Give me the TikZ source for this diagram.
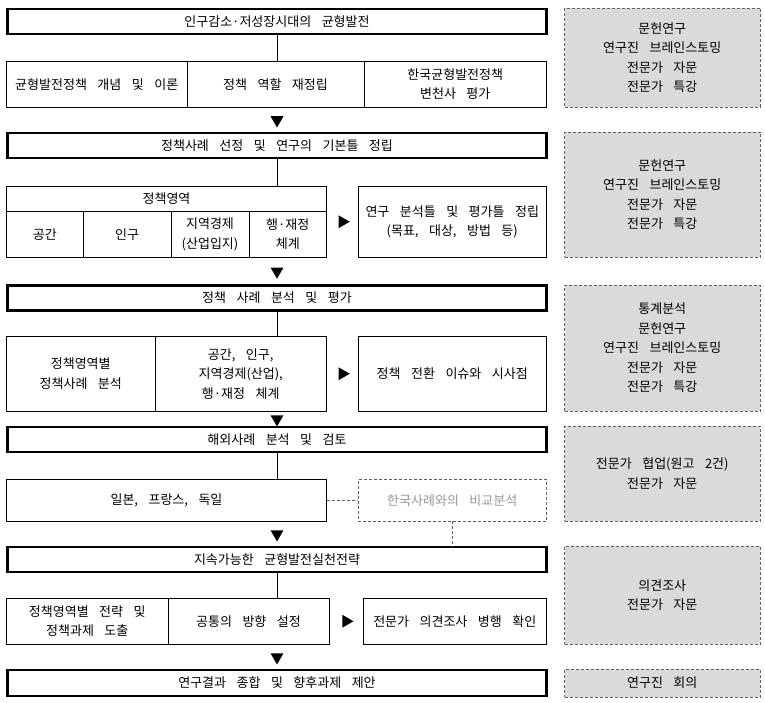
\documentclass[tikz,border=0pt]{standalone}
\usepackage{fontspec}
\setmainfont{Noto Sans CJK KR}[WordSpace=3.6]
\usepackage{tikz}
\usetikzlibrary{calc,shapes,positioning}

\definecolor{boxgray}{RGB}{218,218,218}
\definecolor{edgegray}{RGB}{95,95,95}
\definecolor{textgray}{RGB}{150,150,150}

\begin{document}
\begin{tikzpicture}[
    x = 1pt, y = -1pt,
    node distance = 0pt,
    font = \fontsize{13}{19.5}\selectfont
  ]

  \useasboundingbox (0,0) rectangle (765,703);

  \tikzstyle {every node} = [inner sep = 0, outer sep = 0, align = center]
  \tikzstyle {stage} = [draw, line width = 2.4pt, minimum width = 539pt, minimum height = 25pt]
  \tikzstyle {cell} = [draw, line width = 0.8pt, anchor = north west]
  \tikzstyle {note} = [cell, fill = boxgray, draw = edgegray, densely dashed, line width = 0.6pt, minimum width = 195.5pt]
  \tikzstyle {dnarrow} = [regular polygon, regular polygon sides = 3, shape border rotate = 180, fill = black, minimum size = 15pt]
  \tikzstyle {rtarrow} = [dnarrow, shape border rotate = -90]
  \tikzstyle {link} = [line width = 0.8pt]

  % stages
  \node [stage] (s1) at (277,21.5) {인구감소·저성장시대의 균형발전};
  \node [stage] (s2) at (277,145.5) {정책사례 선정 및 연구의 기본틀 정립};
  \node [stage] (s3) at (277,298) {정책 사례 분석 및 평가};
  \node [stage] (s4) at (277,439.5) {해외사례 분석 및 검토};
  \node [stage] (s5) at (277,559.5) {지속가능한 균형발전실천전략};
  \node [stage, minimum height = 26pt] (s6) at (277,683) {연구결과 종합 및 향후과제 제안};

  % row 1
  \node [cell, minimum width = 180.5pt, minimum height = 45.5pt] (r1a) at (6.5,61.5) {균형발전정책 개념 및 이론};
  \node [cell, minimum width = 177pt, minimum height = 45.5pt, right = of r1a] (r1b) {정책 역할 재정립};
  \node [cell, minimum width = 182.5pt, minimum height = 45.5pt, right = of r1b] (r1c) {한국균형발전정책\\변천사 평가};

  % row 2
  \node [cell, minimum width = 320pt, minimum height = 25pt] (hdr) at (6.5,186.5) {정책영역};
  \node [cell, minimum width = 76.5pt, minimum height = 45.5pt] (t1) at (hdr.south west) {공간};
  \node [cell, minimum width = 88pt, minimum height = 45.5pt, right = of t1] (t2) {인구};
  \node [cell, minimum width = 78pt, minimum height = 45.5pt, right = of t2] (t3) {지역경제\\(산업입지)};
  \node [cell, minimum width = 77.5pt, minimum height = 45.5pt, right = of t3] (t4) {행·재정\\체계};
  \node [cell, minimum width = 188.5pt, minimum height = 70.5pt] (frm) at (358,186.5) {연구 분석틀 및 평가틀 정립\\(목표, 대상, 방법 등)};

  % row 3
  \node [cell, minimum width = 148.5pt, minimum height = 74.5pt] (r3a) at (6.5,336.5) {정책영역별\\정책사례 분석};
  \node [cell, minimum width = 171.5pt, minimum height = 74.5pt, right = of r3a] (r3b) {공간, 인구,\\지역경제(산업),\\행·재정 체계};
  \node [cell, minimum width = 188.5pt, minimum height = 74.5pt] (iss) at (358,336.5) {정책 전환 이슈와 시사점};

  % row 4
  \node [cell, minimum width = 320pt, minimum height = 41.5pt] (r4) at (6.5,479.5) {일본, 프랑스, 독일};
  \node [cell, draw = edgegray, densely dashed, text = textgray, minimum width = 188.5pt, minimum height = 41.5pt] (kor) at (358,479.5) {한국사례와의 비교분석};

  % row 5
  \node [cell, minimum width = 161.5pt, minimum height = 45.5pt] (r5a) at (6.5,598.5) {정책영역별 전략 및\\정책과제 도출};
  \node [cell, minimum width = 161pt, minimum height = 45.5pt, right = of r5a] (r5b) {공통의 방향 설정};
  \node [cell, minimum width = 183.5pt, minimum height = 45.5pt] (chk) at (363,598.5) {전문가 의견조사 병행 확인};

  % methods
  \node [note, minimum height = 99pt] (m1) at (564.5,8) {문헌연구\\연구진 브레인스토밍\\전문가 자문\\전문가 특강};
  \node [note, minimum height = 125pt] (m2) at (564.5,132) {문헌연구\\연구진 브레인스토밍\\전문가 자문\\전문가 특강};
  \node [note, minimum height = 126pt] (m3) at (564.5,285) {통계분석\\문헌연구\\연구진 브레인스토밍\\전문가 자문\\전문가 특강};
  \node [note, minimum height = 95pt] (m4) at (564.5,426) {전문가 협업(원고 2건)\\전문가 자문};
  \node [note, minimum height = 98pt] (m5) at (564.5,546) {의견조사\\전문가 자문};
  \node [note, minimum height = 28pt] (m6) at (564.5,669) {연구진 회의};

  % stage to row
  \draw [link] (s1) -- (s1.south |- r1b.north);
  \draw [link] (s2) -- (s2.south |- hdr.north);
  \draw [link] (s3) -- (s3.south |- r3b.north);
  \draw [link] (s4) -- (s4.south |- r4.north);
  \draw [link] (s5) -- (s5.south |- r5b.north);
  \draw [link, edgegray, densely dashed] (r4) -- (kor);
  \draw [link, edgegray, densely dashed] (kor) -- (kor.south |- s5.north);

  % arrows
  \node [dnarrow] (d1) at ($(s2.north |- r1b.south)!0.5!(s2.north)$) {};
  \node [dnarrow] (d2) at ($(s3.north |- t2.south)!0.5!(s3.north)$) {};
  \node [dnarrow] (d3) at ($(s4.north |- r3b.south)!0.5!(s4.north)$) {};
  \node [dnarrow] (d4) at ($(s5.north |- r4.south)!0.5!(s5.north)$) {};
  \node [dnarrow] (d5) at ($(s6.north |- r5b.south)!0.5!(s6.north)$) {};
  \node [rtarrow] (e1) at ($(t4.east |- frm.west)!0.5!(frm.west)$) {};
  \node [rtarrow] (e2) at ($(r3b.east)!0.5!(iss.west)$) {};
  \node [rtarrow] (e3) at ($(r5b.east)!0.5!(chk.west)$) {};
\end{tikzpicture}
\end{document}
